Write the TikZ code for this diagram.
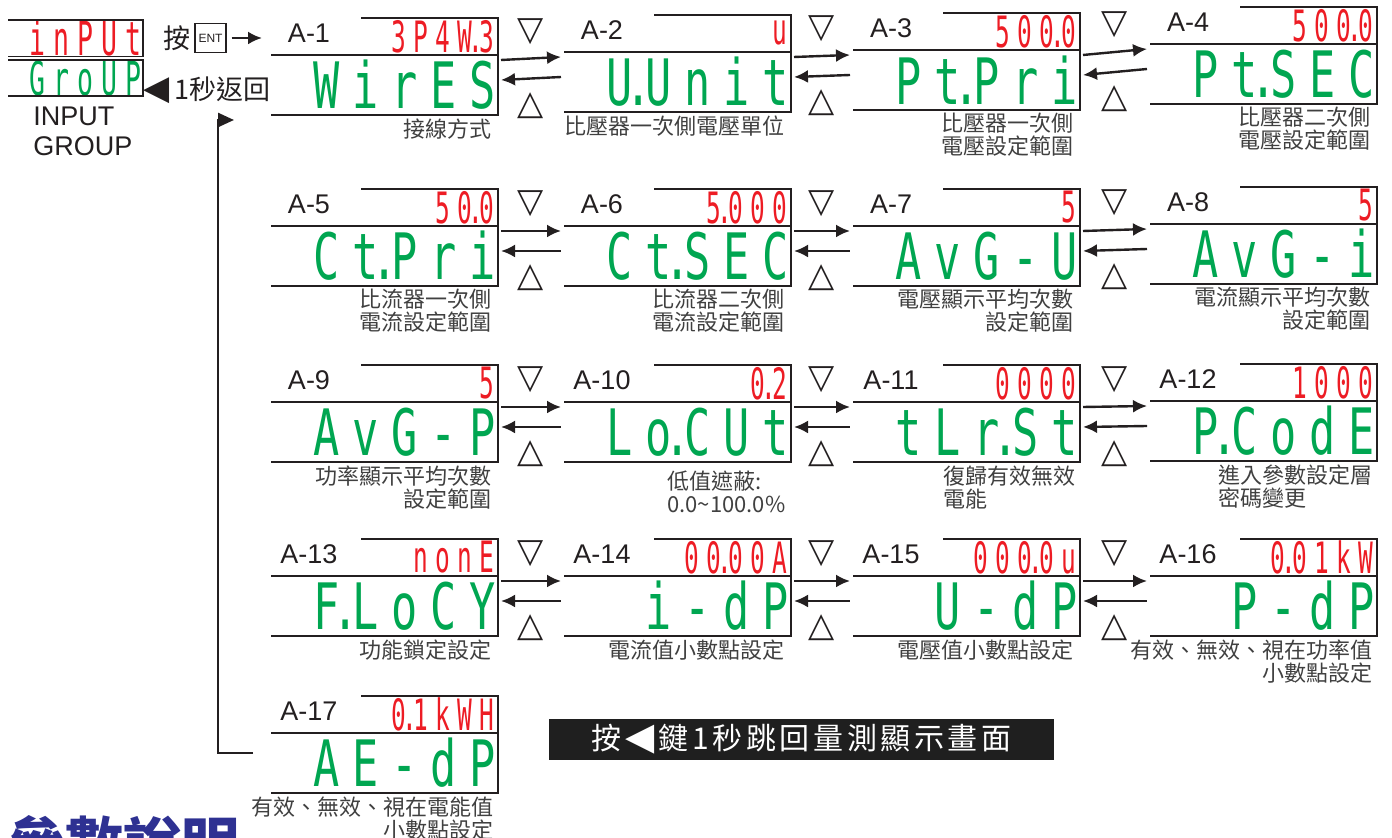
\documentclass[tikz,border=0pt]{standalone}
\usepackage{fontspec}
\usepackage{graphicx}
\setmainfont{Liberation Sans}
\newfontfamily\cjk{Noto Sans CJK TC}
\newfontfamily\cjkwide[LetterSpace=12]{Noto Sans CJK TC}
\newfontfamily\sym{DejaVu Sans}
\newfontfamily\segfont[FakeStretch=0.68, LetterSpace=20]{DejaVu Sans Mono}
\usetikzlibrary{positioning, arrows.meta, calc}
\definecolor{lcdgreen}{RGB}{0,166,81}
\definecolor{lcdred}{RGB}{237,28,36}
\definecolor{ink}{RGB}{35,31,32}
\definecolor{txtgray}{RGB}{64,64,64}
\definecolor{headblue}{RGB}{46,49,146}
\newcommand{\sdot}{\hspace{0.1em}\makebox[0pt]{.}\hspace{0.1em}}

\begin{document}
\begin{tikzpicture}[x=0.5pt, y=-0.5pt, >={Latex[length=7pt,width=6.5pt]}]
    % Stili
    \tikzstyle{lcd} = [anchor=north west, minimum height=30pt, text width=111pt, inner xsep=1.25pt, inner ysep=0pt, outer sep=0pt, align=right, font=\segfont\fontsize{32}{32}\selectfont, text=lcdgreen]
    \tikzstyle{val} = [anchor=south east, minimum height=18.5pt, text width=64.5pt, inner xsep=2pt, inner ysep=0pt, outer sep=0pt, align=right, font=\segfont\fontsize{18}{18}\selectfont, text=lcdred]
    \tikzstyle{mini} = [anchor=north west, minimum height=18pt, text width=65.5pt, inner xsep=1pt, inner ysep=0pt, outer sep=0pt, align=right, font=\segfont\fontsize{19.5}{19.5}\selectfont]
    \tikzstyle{frame} = [draw=ink, line width=0.7pt]
    \tikzstyle{lab} = [anchor=base, inner sep=0pt, font=\fontsize{13.5}{13.5}\selectfont, text=ink]
    \tikzstyle{note} = [inner sep=0pt, font=\cjk\fontsize{11}{11.5}\selectfont, text=txtgray]
    \tikzstyle{tri} = [inner sep=0pt, font=\sym\fontsize{17}{17}\selectfont, text=ink]
    \tikzstyle{link} = [draw=ink, line width=1.2pt]

    \useasboundingbox (0,0) rectangle (1392,838);

    % Ingresso
    \node[mini, text=lcdred] (inp) at (8,20) {\scalebox{1}[1.2]{inPUt}};
    \node[mini, text=lcdgreen] (grp) at (8,60) {\scalebox{1}[1.2]{GroUP}};
    \draw[frame] (inp.north west) -- (inp.north east) -- (inp.south east) -- (inp.south west);
    \draw[frame] (grp.north west) -- (grp.north east) -- (grp.south east) -- (grp.south west);
    \node[anchor=north west, align=left, inner sep=0pt, font=\fontsize{13.5}{15}\selectfont, text=ink] (ig) at (33,107) {INPUT\\GROUP};
    \node[draw=ink, line width=0.6pt, minimum width=15.5pt, minimum height=14.5pt, inner sep=0pt, font=\fontsize{6}{6}\selectfont, text=ink] (ent) at (210.5,38) {ENT};
    \node[left=2pt of ent, inner sep=0pt, font=\cjk\fontsize{13.5}{13.5}\selectfont, text=ink] (press) {按};
    \coordinate (go) at (262,38);
    \node[anchor=west, inner sep=0pt, text=ink] (back) at (143,90) {{\sym\fontsize{17}{17}\selectfont ◀}\hspace{2.5pt}{\cjk\fontsize{13.5}{13.5}\selectfont 1秒返回}};

    % Pannelli
    \foreach \n/\x/\y/\up/\dn in {1/271/55/3P4W\sdot3/WirES, 2/564/52/u/U\sdot Unit,
        3/853/50/500\sdot0/Pt\sdot Pri, 4/1150/44/500\sdot0/Pt\sdot SEC,
        5/271/226/50\sdot0/Ct\sdot Pri, 6/564/226/5\sdot000/Ct\sdot SEC,
        7/853/226/5/AvG-U, 8/1150/224/5/AvG-i,
        9/271/402/5/AvG-P, 10/564/402/0\sdot2/Lo\sdot CUt,
        11/853/402/0000/tLr\sdot St, 12/1150/401/1000/P\sdot CodE,
        13/271/576/nonE/F\sdot LoCY, 14/564/576/00\sdot00A/i-dP,
        15/853/576/000\sdot0u/U-dP, 16/1150/576/0\sdot01kW/P-dP,
        17/271/733/0\sdot1kWH/AE-dP} {
        \node[lcd] (p\n) at (\x,\y) {\dn};
        \node[val] (v\n) at (p\n.north east) {\scalebox{1}[1.2]{\up}};
        \draw[frame] (v\n.north west) -- (v\n.north east) -- (p\n.south east) -- (p\n.south west);
        \draw[frame] (p\n.north west) -- (p\n.north east);
        \node[lab] (a\n) at ([xshift=19pt,yshift=6pt]p\n.north west) {A-\n};
    }

    % Descrizioni
    \node[note, anchor=north east, align=right] (d1) at ([xshift=-3pt,yshift=-1.5pt]p1.south east) {接線方式};
    \node[note, anchor=north east, align=right] (d2) at ([xshift=-3pt,yshift=-1.5pt]p2.south east) {比壓器一次側電壓單位};
    \node[note, anchor=north east, align=right] (d3) at ([xshift=-3pt,yshift=-1.5pt]p3.south east) {比壓器一次側\\電壓設定範圍};
    \node[note, anchor=north east, align=right] (d4) at ([xshift=-3pt,yshift=-1.5pt]p4.south east) {比壓器二次側\\電壓設定範圍};
    \node[note, anchor=north east, align=right] (d5) at ([xshift=-3pt,yshift=-1.5pt]p5.south east) {比流器一次側\\電流設定範圍};
    \node[note, anchor=north east, align=right] (d6) at ([xshift=-3pt,yshift=-1.5pt]p6.south east) {比流器二次側\\電流設定範圍};
    \node[note, anchor=north east, align=right] (d7) at ([xshift=-3pt,yshift=-1.5pt]p7.south east) {電壓顯示平均次數\\設定範圍};
    \node[note, anchor=north east, align=right] (d8) at ([xshift=-3pt,yshift=-1.5pt]p8.south east) {電流顯示平均次數\\設定範圍};
    \node[note, anchor=north east, align=right] (d9) at ([xshift=-3pt,yshift=-1.5pt]p9.south east) {功率顯示平均次數\\設定範圍};
    \node[note, anchor=north west, align=left] (d10) at ([xshift=51.5pt,yshift=-4.5pt]p10.south west) {低值遮蔽:\\0.0\textasciitilde100.0\%};
    \node[note, anchor=north west, align=left] (d11) at ([xshift=45pt,yshift=-1.5pt]p11.south west) {復歸有效無效\\電能};
    \node[note, anchor=north west, align=left] (d12) at ([xshift=34pt,yshift=-1.5pt]p12.south west) {進入參數設定層\\密碼變更};
    \node[note, anchor=north east, align=right] (d13) at ([xshift=-3pt,yshift=-1.5pt]p13.south east) {功能鎖定設定};
    \node[note, anchor=north east, align=right] (d14) at ([xshift=-3pt,yshift=-1.5pt]p14.south east) {電流值小數點設定};
    \node[note, anchor=north east, align=right] (d15) at ([xshift=-3pt,yshift=-1.5pt]p15.south east) {電壓值小數點設定};
    \node[note, anchor=north east, align=right] (d16) at ([xshift=-2pt,yshift=-1.5pt]p16.south east) {有效、無效、視在功率值\\小數點設定};
    \node[note, anchor=north east, align=right] (d17) at ([xshift=-2pt,yshift=-1.5pt]p17.south east) {有效、無效、視在電能值\\小數點設定};

    % Collegamenti
    \foreach \a/\b in {1/2,2/3,3/4,5/6,6/7,7/8,9/10,10/11,11/12,13/14,14/15,15/16} {
        \draw[link, ->] ([xshift=1.5pt,yshift=-2.5pt]p\a.north east) -- ([xshift=-1.5pt,yshift=-2.5pt]p\b.north west);
        \draw[link, <-] ([xshift=1.5pt,yshift=-12.5pt]p\a.north east) -- ([xshift=-1.5pt,yshift=-12.5pt]p\b.north west);
        \node[tri] at ($(p\a.north east)!0.5!(p\b.north west) + (0,-22)$) {▽};
        \node[tri] at ($(p\a.north east)!0.5!(p\b.north west) + (0,52)$) {△};
    }
    \draw[link, ->, shorten <=2.5pt] (ent) -- (go);
    \coordinate (flag) at (234,120);
    \draw[link, -{Triangle[length=8pt,width=7pt]}] ([xshift=-9pt,yshift=5pt]p17.west) -| ([xshift=-8pt]flag) -- (flag);

    % Nota in basso
    \node[fill=black!88, text=white, minimum width=252.5pt, minimum height=20.5pt, inner sep=0pt, font=\cjkwide\fontsize{15}{15}\selectfont] (banner) at (801.5,739.5) {按\hspace{2pt}{\sym\fontsize{19}{15}\selectfont ◀}\hspace{2pt}鍵1秒跳回量測顯示畫面};
    \node[anchor=north east, inner sep=0pt, text=headblue, font=\cjk\bfseries\fontsize{29}{29}\selectfont] (head) at (240,815) {參數說明};
\end{tikzpicture}
\end{document}
